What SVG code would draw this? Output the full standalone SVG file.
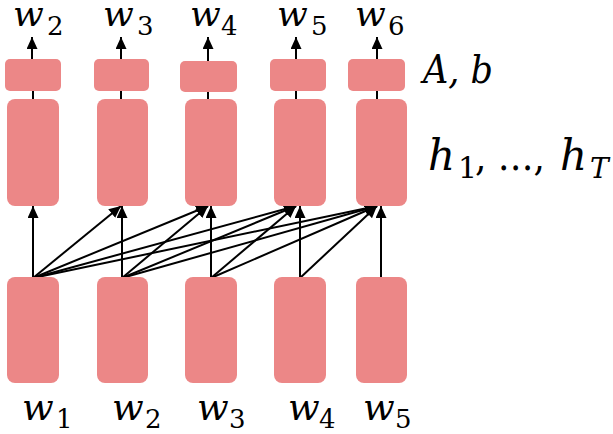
<svg xmlns="http://www.w3.org/2000/svg" width="613" height="434" viewBox="0 0 613 434">
<style>
.box{fill:#EC8787;}
.ln{stroke:#000;stroke-width:2;fill:none;}
.v{font-family:"DejaVu Serif",serif;font-style:italic;fill:#000;}
.s{font-family:"DejaVu Serif",serif;font-style:normal;fill:#000;}
</style>
<defs>
<marker id="ah" markerUnits="userSpaceOnUse" viewBox="0 0 12 11" markerWidth="12" markerHeight="11" refX="12" refY="5.5" orient="auto">
<path d="M0,0 L12,5.5 L0,11 z" fill="#000"/>
</marker>
</defs>
<rect width="613" height="434" fill="#fff"/>
<g id="connectors">
<line class="ln" x1="32" y1="59" x2="32" y2="37" marker-end="url(#ah)"/>
<line class="ln" x1="121" y1="59" x2="121" y2="37" marker-end="url(#ah)"/>
<line class="ln" x1="208" y1="61" x2="208" y2="37" marker-end="url(#ah)"/>
<line class="ln" x1="296" y1="59" x2="296" y2="37" marker-end="url(#ah)"/>
<line class="ln" x1="377" y1="59" x2="377" y2="37" marker-end="url(#ah)"/>
<line class="ln" x1="33" y1="99" x2="33" y2="91"/>
<line class="ln" x1="121" y1="99" x2="121" y2="91"/>
<line class="ln" x1="208" y1="99" x2="208" y2="92"/>
<line class="ln" x1="296" y1="99" x2="296" y2="91"/>
<line class="ln" x1="377" y1="99" x2="377" y2="91"/>
<line class="ln" x1="33" y1="278" x2="33" y2="206" marker-end="url(#ah)"/>
<line class="ln" x1="33" y1="278" x2="121" y2="206" marker-end="url(#ah)"/>
<line class="ln" x1="33" y1="278" x2="208" y2="206" marker-end="url(#ah)"/>
<line class="ln" x1="33" y1="278" x2="296" y2="206" marker-end="url(#ah)"/>
<line class="ln" x1="33" y1="278" x2="377" y2="206" marker-end="url(#ah)"/>
<line class="ln" x1="122" y1="278" x2="122" y2="206" marker-end="url(#ah)"/>
<line class="ln" x1="122" y1="278" x2="208" y2="206" marker-end="url(#ah)"/>
<line class="ln" x1="122" y1="278" x2="296" y2="206" marker-end="url(#ah)"/>
<line class="ln" x1="122" y1="278" x2="377" y2="206" marker-end="url(#ah)"/>
<line class="ln" x1="211" y1="278" x2="211" y2="206" marker-end="url(#ah)"/>
<line class="ln" x1="211" y1="278" x2="296" y2="206" marker-end="url(#ah)"/>
<line class="ln" x1="211" y1="278" x2="377" y2="206" marker-end="url(#ah)"/>
<line class="ln" x1="300" y1="278" x2="300" y2="206" marker-end="url(#ah)"/>
<line class="ln" x1="300" y1="278" x2="377" y2="206" marker-end="url(#ah)"/>
<line class="ln" x1="381" y1="278" x2="381" y2="206" marker-end="url(#ah)"/>
</g>
<g id="out1"><rect class="box" x="5" y="59" width="56" height="32" rx="5"/></g>
<g id="out2"><rect class="box" x="94" y="59" width="55" height="32" rx="5"/></g>
<g id="out3"><rect class="box" x="180" y="61" width="57" height="31" rx="5"/></g>
<g id="out4"><rect class="box" x="270" y="59" width="56" height="32" rx="5"/></g>
<g id="out5"><rect class="box" x="348" y="59" width="57" height="32" rx="5"/></g>
<g id="h1"><rect class="box" x="7" y="99" width="52" height="107" rx="8"/></g>
<g id="h2"><rect class="box" x="97" y="99" width="51" height="107" rx="8"/></g>
<g id="h3"><rect class="box" x="185" y="99" width="52" height="107" rx="8"/></g>
<g id="h4"><rect class="box" x="274" y="99" width="52" height="107" rx="8"/></g>
<g id="h5"><rect class="box" x="356" y="99" width="51" height="107" rx="8"/></g>
<g id="in1"><rect class="box" x="7" y="277" width="52" height="106" rx="8"/></g>
<g id="in2"><rect class="box" x="97" y="277" width="51" height="106" rx="8"/></g>
<g id="in3"><rect class="box" x="185" y="277" width="52" height="106" rx="8"/></g>
<g id="in4"><rect class="box" x="274" y="277" width="52" height="106" rx="8"/></g>
<g id="in5"><rect class="box" x="356" y="277" width="51" height="106" rx="8"/></g>
<g id="labels-top">
<text class="v" x="13" y="26" font-size="36">w<tspan class="s" x="47" y="35" font-size="26">2</tspan></text>
<text class="v" x="103" y="26" font-size="36">w<tspan class="s" x="137" y="35" font-size="26">3</tspan></text>
<text class="v" x="190" y="26" font-size="36">w<tspan class="s" x="221" y="35" font-size="26">4</tspan></text>
<text class="v" x="277" y="26" font-size="36">w<tspan class="s" x="311" y="35" font-size="26">5</tspan></text>
<text class="v" x="355" y="26" font-size="36">w<tspan class="s" x="388" y="35" font-size="26">6</tspan></text>
</g>
<g id="labels-bottom">
<text class="v" x="22" y="420" font-size="37">w<tspan class="s" x="56" y="428" font-size="26">1</tspan></text>
<text class="v" x="112" y="420" font-size="37">w<tspan class="s" x="145" y="428" font-size="26">2</tspan></text>
<text class="v" x="197" y="420" font-size="37">w<tspan class="s" x="229" y="428" font-size="26">3</tspan></text>
<text class="v" x="288" y="420" font-size="37">w<tspan class="s" x="319" y="428" font-size="26">4</tspan></text>
<text class="v" x="363" y="420" font-size="37">w<tspan class="s" x="395" y="428" font-size="26">5</tspan></text>
</g>
<g id="side-labels">
<text class="v" x="423" y="83" font-size="40" textLength="70" lengthAdjust="spacingAndGlyphs">A, b</text>
<text class="v" x="428" y="170" font-size="42">h<tspan class="s" x="458" y="178" font-size="30">1</tspan><tspan class="s" x="475" y="170" font-size="40" textLength="70" lengthAdjust="spacingAndGlyphs">, …,</tspan><tspan class="v" x="560" y="170" font-size="42">h</tspan><tspan class="v" x="590" y="178" font-size="28">T</tspan></text>
</g>
</svg>
